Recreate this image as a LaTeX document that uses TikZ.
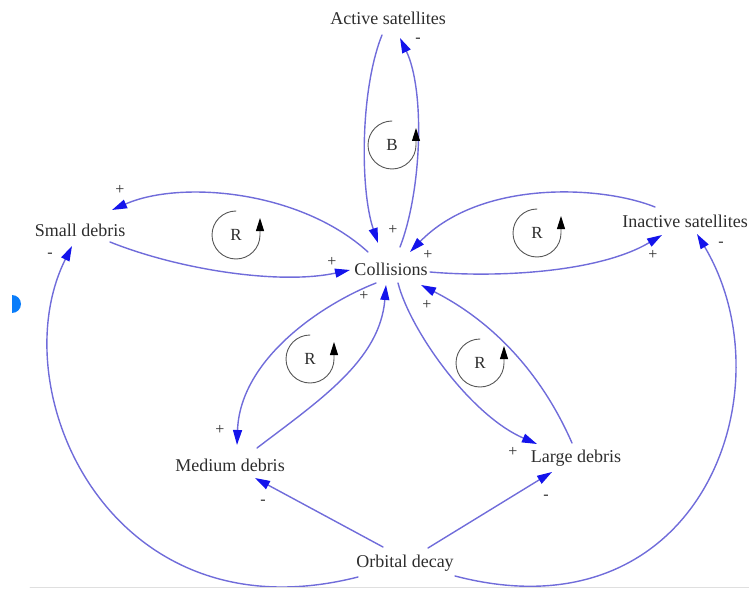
\documentclass[tikz,border=0pt]{standalone}
\usepackage{fontspec}
\setmainfont{Liberation Serif}
\usetikzlibrary{arrows.meta}
\definecolor{linkblue}{RGB}{112,108,218}
\definecolor{tipblue}{RGB}{20,20,235}
\definecolor{inkgray}{RGB}{45,45,45}
\definecolor{dotblue}{RGB}{10,125,250}

\begin{document}
\begin{tikzpicture}[x=1pt,y=1pt,line cap=round,line join=round,
  var/.style={text=inkgray,font=\fontsize{18}{20}\selectfont,inner sep=1pt},
  sign/.style={text=inkgray,font=\fontsize{16}{18}\selectfont,inner sep=0pt},
  link/.style={draw=linkblue,line width=1.4pt,-{Triangle[length=15pt,width=9pt,color=tipblue]}},
  loopline/.style={draw=inkgray!80,line width=0.9pt,-{Triangle[length=13pt,width=8pt,color=black]}},
  looplabel/.style={text=inkgray,font=\fontsize{17}{19}\selectfont,inner sep=0pt}]
  \useasboundingbox (0,0) rectangle (749,590);

  % Variables
  \node[var] (act) at (388,572) {Active satellites};
  \node[var] (small) at (80,360) {Small debris};
  \node[var] (col) at (391,321) {Collisions};
  \node[var] (inact) at (685,369) {Inactive satellites};
  \node[var] (med) at (230,125) {Medium debris};
  \node[var] (large) at (576,132) {Large debris};
  \node[var] (orb) at (405,27) {Orbital decay};

  % Active satellites petal
  \draw[link] ([shift={(-6,-17)}]act.center) .. controls +(-22,-55) and +(-18,53) .. ([shift={(-13,26)}]col.center);
  \draw[link] ([shift={(9,22)}]col.center) .. controls +(22,57) and +(25,-52) .. ([shift={(12,-20)}]act.center);
  \node[sign] (sa) at (393,360) {+};
  \node[sign] (sb) at (418,550) {-};

  % Small debris petal
  \draw[link] ([shift={(-23,17)}]col.center) .. controls +(-68,62) and +(68,30) .. ([shift={(32,20)}]small.center);
  \draw[link] ([shift={(30,-12)}]small.center) .. controls +(70,-28) and +(-70,-15) .. ([shift={(-41,-1)}]col.center);
  \node[sign] (sc) at (120,400) {+};
  \node[sign] (sd) at (332,328) {+};

  % Inactive satellites petal
  \draw[link] ([shift={(39,-3)}]col.center) .. controls +(70,-6) and +(-62,-37) .. ([shift={(-23,-14)}]inact.center);
  \draw[link] ([shift={(-30,14)}]inact.center) .. controls +(-55,22) and +(70,72) .. ([shift={(19,17)}]col.center);
  \node[sign] (se) at (653,335) {+};
  \node[sign] (sf) at (428,335) {+};

  % Medium debris petal
  \draw[link] ([shift={(-15,-14)}]col.center) .. controls +(-56,-22) and +(3,85) .. ([shift={(7,20)}]med.center);
  \draw[link] ([shift={(27,17)}]med.center) .. controls +(63,48) and +(-6,-75) .. ([shift={(-5,-16)}]col.center);
  \node[sign] (sg) at (220,160) {+};
  \node[sign] (sh) at (364,294) {+};

  % Large debris petal
  \draw[link] ([shift={(7,-14)}]col.center) .. controls +(12,-47) and +(-67,29) .. ([shift={(-39,14)}]large.center);
  \draw[link] ([shift={(-4,15)}]large.center) .. controls +(-32,73) and +(69,-35) .. ([shift={(30,-16)}]col.center);
  \node[sign] (si) at (513,138) {+};
  \node[sign] (sj) at (427,285) {+};

  % Orbital decay drains all debris and inactive satellites
  \draw[link] ([shift={(-22,16)}]orb.center) -- ([shift={(25,-13)}]med.center);
  \draw[link] ([shift={(23,15)}]orb.center) -- ([shift={(-24,-14)}]large.center);
  \draw[link] ([shift={(-47,-14)}]orb.center) .. controls +(-248,-63) and +(-72,-144) .. ([shift={(-8,-16)}]small.center);
  \draw[link] ([shift={(50,-13)}]orb.center) .. controls +(245,-64) and +(93,-156) .. ([shift={(12,-13)}]inact.center);
  \node[sign] (sk) at (263,88) {-};
  \node[sign] (sl) at (546,93) {-};
  \node[sign] (sm) at (50,335) {-};
  \node[sign] (sn) at (721,346) {-};

  % Loop markers
  \foreach \x/\y/\l [count=\i] in {392/445/B, 236/355/R, 537/357/R, 310/231/R, 480/227/R} {
    \node[looplabel] (loop\i) at (\x,\y) {\l};
    \draw[loopline] ([yshift=24pt]loop\i.center) arc[start angle=90,end angle=360,radius=24] -- ++(0,17);
  }

  % Screenshot leftovers
  \draw[gray!25,line width=0.8pt] (30,3) -- (749,3);
  \fill[dotblue] (12,277) arc[start angle=-90,end angle=90,radius=9] -- cycle;
\end{tikzpicture}
\end{document}
